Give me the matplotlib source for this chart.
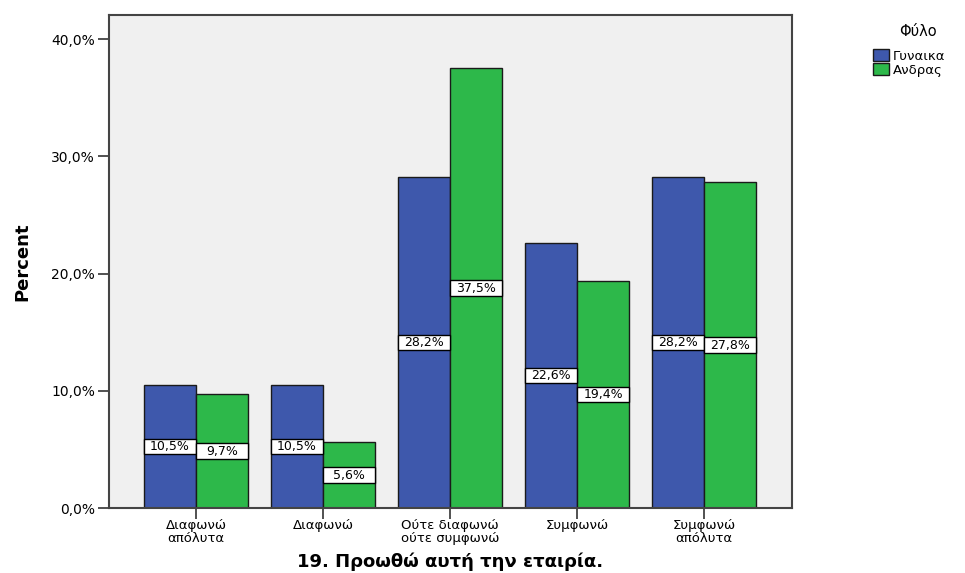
import matplotlib
matplotlib.use("Agg")
import matplotlib.pyplot as plt
from matplotlib.patches import Rectangle
import numpy as np

plt.rcParams['font.family'] = ['DejaVu Sans']

categories = ["Διαφωνώ\nαπόλυτα", "Διαφωνώ", "Ούτε διαφωνώ\nούτε συμφωνώ", "Συμφωνώ", "Συμφωνώ\nαπόλυτα"]
women = [10.5, 10.5, 28.2, 22.6, 28.2]
men = [9.7, 5.6, 37.5, 19.4, 27.8]
series_names = ["Γυναικα", "Ανδρας"]
legend_title = "Φύλο"
yticks = [0, 10, 20, 30, 40]
ytick_labels = ["0,0%", "10,0%", "20,0%", "30,0%", "40,0%"]

blue = "#3e58ac"
green = "#2db84a"

W, H = 965, 573
fig = plt.figure(figsize=(W / 100, H / 100), dpi=100)
ax_l, ax_r, ax_t, ax_b = 109, 792, 15, 508
ax = fig.add_axes([ax_l / W, 1 - ax_b / H, (ax_r - ax_l) / W, (ax_b - ax_t) / H])
ax.set_facecolor("#f0f0f0")

ymax = 42.06
ax.set_xlim(-0.685, 4.693)
ax.set_ylim(0, ymax)

x = np.arange(len(categories))
w = 0.413
b1 = ax.bar(x - w/2, women, w, color=blue, edgecolor="#1a1a1a", linewidth=1.0, label=series_names[0])
b2 = ax.bar(x + w/2, men, w, color=green, edgecolor="#1a1a1a", linewidth=1.0, label=series_names[1])

# value labels: white boxes as wide as the bar, centred at half height
box_h = 15.5 / (ax_b - ax_t) * ymax
for bars, vals in ((b1, women), (b2, men)):
    for rect, v in zip(bars, vals):
        ax.add_patch(Rectangle((rect.get_x(), v/2 - box_h/2), rect.get_width(), box_h,
                               facecolor="white", edgecolor="black", linewidth=1.0, zorder=3))
        ax.text(rect.get_x() + rect.get_width()/2, v/2,
                f"{v:.1f}%".replace(".", ","),
                ha="center", va="center", fontsize=9, color="black", zorder=4)

ax.set_yticks(yticks)
ax.set_yticklabels(ytick_labels, fontsize=10)
ax.set_xticks(x)
ax.set_xticklabels(categories, fontsize=9.5, linespacing=0.95)
ax.tick_params(axis='both', direction='out', length=8, width=1.2, color="#333333")
ax.tick_params(axis='y', pad=2)
ax.tick_params(axis='x', pad=0)
for s in ax.spines.values():
    s.set_color("#444444")
    s.set_linewidth(1.5)

ax.set_ylabel("Percent", fontsize=13, fontweight="bold")
ax.yaxis.set_label_coords(-(ax_l - 31) / (ax_r - ax_l), 0.5)
ax.set_xlabel("19. Προωθώ αυτή την εταιρία.", fontsize=13, fontweight="bold", va="baseline")
ax.xaxis.set_label_coords(0.5, -(567 - ax_b) / (ax_b - ax_t))

leg = fig.legend(handles=[b1, b2], labels=series_names,
                 loc="upper left", bbox_to_anchor=(864 / W, 1 - 40 / H),
                 frameon=False, fontsize=9.5,
                 handlelength=1.2, handleheight=1.0, handletextpad=0.3,
                 labelspacing=0.05, borderpad=0.2)
fig.text(918 / W, 1 - 32 / H, legend_title, ha="center", va="center", fontsize=10.5)

fig.savefig("out.png", dpi=100)
